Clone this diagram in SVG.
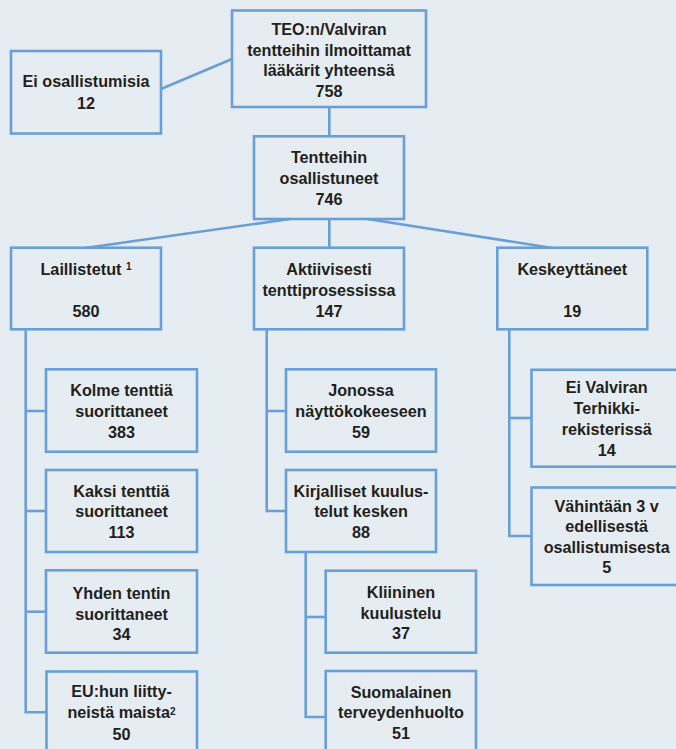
<svg xmlns="http://www.w3.org/2000/svg" width="676" height="749" viewBox="0 0 676 749">
<style>
.bg{fill:#e6edf2}
.box{fill:#e6edf2;stroke:#6a9fd6;stroke-width:2.6}
.ln{fill:none;stroke:#6a9fd6;stroke-width:2.6}
text{font-family:"Liberation Sans",Arial,sans-serif;font-weight:bold;font-size:16.2px;fill:#231f20;text-anchor:middle}
.sup{font-size:10px}
</style>
<rect class="bg" x="0" y="0" width="676" height="749"/>
<g id="connectors">
<line class="ln" x1="161" y1="89" x2="232" y2="59"/>
<line class="ln" x1="329.3" y1="107" x2="329.3" y2="136"/>
<line class="ln" x1="290" y1="219" x2="85" y2="248"/>
<line class="ln" x1="329.3" y1="219" x2="329.3" y2="248"/>
<line class="ln" x1="367.5" y1="219" x2="552.5" y2="248"/>
<polyline class="ln" points="25.7,329 25.7,712.3 46,712.3"/>
<line class="ln" x1="25.7" y1="411" x2="46" y2="411"/>
<line class="ln" x1="25.7" y1="511" x2="46" y2="511"/>
<line class="ln" x1="25.7" y1="611.7" x2="46" y2="611.7"/>
<polyline class="ln" points="266.7,329 266.7,511 286,511"/>
<line class="ln" x1="266.7" y1="411" x2="286" y2="411"/>
<polyline class="ln" points="305.7,552 305.7,717 326,717"/>
<line class="ln" x1="305.7" y1="617" x2="326" y2="617"/>
<polyline class="ln" points="509.3,329 509.3,536 531,536"/>
<line class="ln" x1="509.3" y1="418" x2="531" y2="418"/>
</g>
<g id="n-total">
<rect class="box" x="232" y="10.5" width="194" height="96.5"/>
<text x="329" y="35">TEO:n/Valviran</text>
<text x="329" y="55.5">tentteihin ilmoittamat</text>
<text x="329" y="76">lääkärit yhteensä</text>
<text x="329" y="96.5">758</text>
</g>
<g id="n-ei-osallistumisia">
<rect class="box" x="11" y="51" width="150" height="82.5"/>
<text x="86" y="87.3">Ei osallistumisia</text>
<text x="86" y="109">12</text>
</g>
<g id="n-osallistuneet">
<rect class="box" x="254" y="136.3" width="150" height="82.7"/>
<text x="329" y="163.3">Tentteihin</text>
<text x="329" y="184.3">osallistuneet</text>
<text x="329" y="204.7">746</text>
</g>
<g id="n-laillistetut">
<rect class="box" x="11" y="247.7" width="150" height="81.6"/>
<text x="86" y="275">Laillistetut <tspan class="sup" dy="-5">1</tspan></text>
<text x="86" y="316.7">580</text>
</g>
<g id="n-aktiivisesti">
<rect class="box" x="254" y="247.7" width="150" height="81.6"/>
<text x="329" y="275">Aktiivisesti</text>
<text x="329" y="296">tenttiprosessissa</text>
<text x="329" y="316.7">147</text>
</g>
<g id="n-keskeyttaneet">
<rect class="box" x="497.3" y="247.7" width="150" height="81.6"/>
<text x="572.3" y="275">Keskeyttäneet</text>
<text x="572.3" y="316.7">19</text>
</g>
<g id="n-kolme">
<rect class="box" x="46" y="369.3" width="151" height="82.4"/>
<text x="121.5" y="396">Kolme tenttiä</text>
<text x="121.5" y="417.3">suorittaneet</text>
<text x="121.5" y="438.3">383</text>
</g>
<g id="n-kaksi">
<rect class="box" x="46" y="470" width="151" height="82"/>
<text x="121.5" y="496.7">Kaksi tenttiä</text>
<text x="121.5" y="517.3">suorittaneet</text>
<text x="121.5" y="538.3">113</text>
</g>
<g id="n-yhden">
<rect class="box" x="46" y="570.3" width="151" height="82.4"/>
<text x="121.5" y="599">Yhden tentin</text>
<text x="121.5" y="619.5">suorittaneet</text>
<text x="121.5" y="640">34</text>
</g>
<g id="n-eu">
<rect class="box" x="46.5" y="671.5" width="150.5" height="83"/>
<text x="121.5" y="697.3">EU:hun liitty-</text>
<text x="121.5" y="718.3">neistä maista<tspan class="sup" dy="-3.5">2</tspan></text>
<text x="121.5" y="740">50</text>
</g>
<g id="n-jonossa">
<rect class="box" x="286" y="369.3" width="150" height="82.4"/>
<text x="361" y="396">Jonossa</text>
<text x="361" y="417.3">näyttökokeeseen</text>
<text x="361" y="438.3">59</text>
</g>
<g id="n-kirjalliset">
<rect class="box" x="286" y="470" width="150" height="82"/>
<text x="361" y="496.7">Kirjalliset kuulus-</text>
<text x="361" y="517.3">telut kesken</text>
<text x="361" y="538.3">88</text>
</g>
<g id="n-kliininen">
<rect class="box" x="325.7" y="570.7" width="150.3" height="82"/>
<text x="401" y="598.3">Kliininen</text>
<text x="401" y="619">kuulustelu</text>
<text x="401" y="639.3">37</text>
</g>
<g id="n-suomalainen">
<rect class="box" x="325.7" y="671" width="150.3" height="83"/>
<text x="401" y="697.7">Suomalainen</text>
<text x="401" y="718.3">terveydenhuolto</text>
<text x="401" y="739.3">51</text>
</g>
<g id="n-ei-valviran">
<rect class="box" x="531.5" y="369.8" width="150" height="96.9"/>
<text x="606.7" y="393.3">Ei Valviran</text>
<text x="606.7" y="414.3">Terhikki-</text>
<text x="606.7" y="435">rekisterissä</text>
<text x="606.7" y="456">14</text>
</g>
<g id="n-vahintaan">
<rect class="box" x="531.5" y="487.5" width="150" height="97.5"/>
<text x="606.7" y="511.7">Vähintään 3 v</text>
<text x="606.7" y="532.3">edellisestä</text>
<text x="606.7" y="553.3">osallistumisesta</text>
<text x="606.7" y="573.3">5</text>
</g>
</svg>
